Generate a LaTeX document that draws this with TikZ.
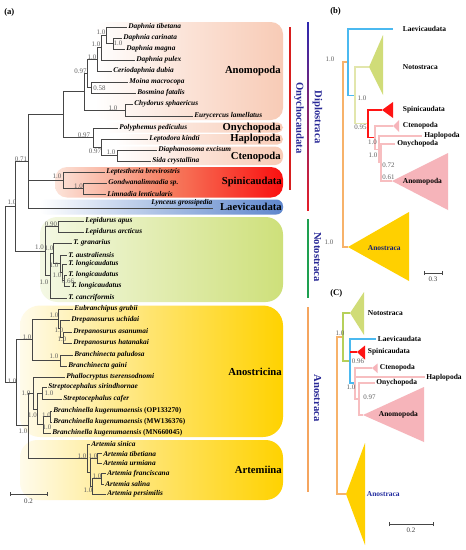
\documentclass[tikz,border=0pt]{standalone}
\usepackage{fontspec}
\setmainfont{Liberation Serif}
\definecolor{mynavy}{RGB}{40,40,150}
\definecolor{peach}{RGB}{248,203,182}
\definecolor{peachmid}{RGB}{251,226,214}
\definecolor{spR}{RGB}{250,15,15}
\definecolor{spM}{RGB}{246,125,95}
\definecolor{spL}{RGB}{252,228,218}
\definecolor{laR}{RGB}{95,135,205}
\definecolor{laM}{RGB}{170,192,228}
\definecolor{noR}{RGB}{206,224,122}
\definecolor{noL}{RGB}{244,248,228}
\definecolor{goldR}{RGB}{255,210,0}
\definecolor{goldM}{RGB}{255,228,110}
\definecolor{goldL}{RGB}{255,251,235}
\definecolor{brc}{RGB}{70,70,70}
\definecolor{svc}{RGB}{95,95,95}
\definecolor{barred}{RGB}{215,30,30}
\definecolor{bargreen}{RGB}{30,160,80}
\definecolor{barorange}{RGB}{245,165,95}
\definecolor{dipTop}{RGB}{45,40,175}
\definecolor{dipBot}{RGB}{230,30,40}
\definecolor{tblue}{RGB}{75,185,240}
\definecolor{torange}{RGB}{247,178,106}
\definecolor{tgreenB}{RGB}{226,230,172}
\definecolor{tgreenC}{RGB}{182,208,90}
\definecolor{tgreenfill}{RGB}{208,220,120}
\definecolor{tpink}{RGB}{247,190,192}
\definecolor{tpinkfill}{RGB}{246,180,186}
\definecolor{tred}{RGB}{255,20,20}
\definecolor{tgold}{RGB}{255,208,0}
\definecolor{anblue}{RGB}{35,45,160}
\tikzset{
  br/.style={draw=brc, line width=0.6pt},
  tx/.style={font=\fontsize{5.5}{6}\selectfont\bfseries\itshape, inner sep=0.8pt, anchor=west},
  sv/.style={font=\fontsize{5.2}{6}\selectfont, text=svc, inner sep=0pt},
  grp/.style={font=\fontsize{8}{9}\selectfont\bfseries, inner sep=0pt},
  vlab/.style={font=\fontsize{8}{9}\selectfont\bfseries, text=mynavy, rotate=-90, inner sep=0pt},
  plab/.style={font=\fontsize{6.5}{7}\selectfont\bfseries, inner sep=0pt},
  bl/.style={font=\fontsize{5.6}{6}\selectfont\bfseries, inner sep=0.5pt, anchor=west},
  tl/.style={line width=1.1pt},
  sb/.style={draw=brc, line width=0.6pt},
}
\begin{document}
\begin{tikzpicture}[x=0.75pt,y=-0.75pt]
\useasboundingbox (0,0) rectangle (466,550);
\fill[white] (0,0) rectangle (466,550);

% ---------------- background boxes (a)
\shade[left color=white, right color=peach, middle color=peachmid, rounded corners=9pt] (95,22) rectangle (283,120);
\shade[left color=white, right color=peach, middle color=peachmid, rounded corners=4pt] (105,122.5) rectangle (283,132.5);
\shade[left color=white, right color=peach, middle color=peachmid, rounded corners=4pt] (115,134) rectangle (283,144.5);
\shade[left color=white, right color=peach, middle color=peachmid, rounded corners=6pt] (115,146.5) rectangle (283,165);
\shade[left color=spL, right color=spR, middle color=spM, rounded corners=9pt] (55,167) rectangle (283,197.5);
\shade[left color=white, right color=laR, middle color=laM, rounded corners=5pt] (40,199.5) rectangle (283,214.5);
\shade[left color=noL, right color=noR, rounded corners=13pt] (40,217) rectangle (283,302);
\shade[left color=goldL, right color=goldR, middle color=goldM, rounded corners=15pt] (20,305.5) rectangle (283,437);
\shade[left color=goldL, right color=goldR, middle color=goldM, rounded corners=13pt] (20,440) rectangle (283,500);

% ---------------- group labels
\node[grp, anchor=east] (gAno) at (281,71) {Anomopoda};
\node[grp, anchor=east] (gOny) at (281,127.5) {Onychopoda};
\node[grp, anchor=east] (gHap) at (281,139) {Haplopoda};
\node[grp, anchor=east] (gCte) at (281,157) {Ctenopoda};
\node[grp, anchor=east] (gSpi) at (282,182) {Spinicaudata};
\node[grp, anchor=east] (gLae) at (282,207) {Laevicaudata};
\node[grp, anchor=east] (gAns) at (282,372) {Anostricina};
\node[grp, anchor=east] (gArt) at (282,470) {Artemiina};

% ---------------- side bars
\fill[barred] (289.3,27) rectangle (290.9,190);
\node[vlab] (vOny) at (299,118) {Onychocaudata};
\shade[top color=dipTop, bottom color=dipBot] (307.2,22) rectangle (308.9,210);
\node[vlab] (vDip) at (317.5,117) {Diplostraca};
\fill[bargreen] (307.2,219) rectangle (308.9,298);
\node[vlab] (vNot) at (317.5,257) {Notostraca};
\fill[barorange] (307.2,307) rectangle (308.9,492);
\node[vlab] (vAns) at (317.5,398) {Anostraca};

\node[plab, anchor=west] (pa) at (4,12) {(a)};

% ---------------- leaves (a)
\node[tx] (L1) at (127,27) {Daphnia tibetana};
\node[tx] (L2) at (122,38) {Daphnia carinata};
\node[tx] (L3) at (125,49) {Daphnia magna};
\node[tx] (L4) at (135,60) {Daphnia pulex};
\node[tx] (L5) at (112,71) {Ceriodaphnia dubia};
\node[tx] (L6) at (128,82) {Moina macrocopa};
\node[tx] (L7) at (136,93) {Bosmina fatalis};
\node[tx] (L8) at (133,104) {Chydorus sphaericus};
\node[tx] (L9) at (193,116) {Eurycercus lamellatus};
\node[tx] (L10) at (118,128) {Polyphemus pediculus};
\node[tx] (L11) at (148,139) {Leptodora kindti};
\node[tx] (L12) at (157,150) {Diaphanosoma excisum};
\node[tx] (L13) at (151,161) {Sida crystallina};
\node[tx] (L14) at (105,172) {Leptestheria brevirostris};
\node[tx] (L15) at (107,183) {Gondwanalimnadia sp.};
\node[tx] (L16) at (106,194) {Limnadia lenticularis};
\coordinate (Lyn) at (213,208);
\node[tx, anchor=south west] (L17) at (150,207.5) {Lynceus grossipedia};
\node[tx] (L18) at (84,221) {Lepidurus apus};
\node[tx] (L19) at (84,232) {Lepidurus arcticus};
\node[tx] (L20) at (72,243) {T. granarius};
\node[tx] (L21) at (67,255) {T. australiensis};
\node[tx] (L22) at (67,264) {T. longicaudatus};
\node[tx] (L23) at (67,275) {T. longicaudatus};
\node[tx] (L24) at (70,286) {T. longicaudatus};
\node[tx] (L25) at (67,298) {T. cancriformis};
\node[tx] (L26) at (73,309) {Eubranchipus grubii};
\node[tx] (L27) at (70,320) {Drepanosurus uchidai};
\node[tx] (L28) at (72,332) {Drepanosurus asanumai};
\node[tx] (L29) at (72,343) {Drepanosurus hatanakai};
\node[tx] (L30) at (73,355) {Branchinecta paludosa};
\node[tx] (L31) at (67,366) {Branchinecta gaini};
\node[tx] (L32) at (65,377) {Phallocryptus tserensodnomi};
\node[tx] (L33) at (47,387) {Streptocephalus sirindhornae};
\node[tx] (L34) at (62,399) {Streptocephalus cafer};
\node[tx] (L35) at (52,411) {Branchinella kugenumaensis {\upshape (OP133270)}};
\node[tx] (L36) at (52,422) {Branchinella kugenumaensis {\upshape (MW136376)}};
\node[tx] (L37) at (51,433) {Branchinella kugenumaensis {\upshape (MN660045)}};
\node[tx] (L38) at (90,444) {Artemia sinica};
\node[tx] (L39) at (102,453.5) {Artemia tibetiana};
\node[tx] (L40) at (102,463) {Artemia urmiana};
\node[tx] (L41) at (106,473.5) {Artemia franciscana};
\node[tx] (L42) at (104,484) {Artemia salina};
\node[tx] (L43) at (106,494) {Artemia persimilis};

% ---------------- internal nodes (a)
\coordinate (a23) at (113,43.5);
\coordinate (a123) at (106,35.25);
\coordinate (a1234) at (101,47.6);
\coordinate (a12345) at (97,59.3);
\coordinate (a67) at (91,87.5);
\coordinate (aDM) at (87,73.4);
\coordinate (a89) at (125,110);
\coordinate (aAno) at (84,91.7);
\coordinate (cC) at (117,155.5);
\coordinate (cHC) at (101,147.25);
\coordinate (cOHC) at (93,137.6);
\coordinate (aClad) at (63,114.65);
\coordinate (sGL) at (83,188.5);
\coordinate (sS) at (63,180.25);
\coordinate (dOny) at (28,161.3);
\coordinate (nLep) at (58,226.5);
\coordinate (tL23) at (64,280.5);
\coordinate (tL) at (62,272.25);
\coordinate (tAL) at (60,263.6);
\coordinate (tGAL) at (53,253.3);
\coordinate (tT) at (50,275.6);
\coordinate (nNot) at (45,251.05);
\coordinate (nDN) at (15,206.2);
\coordinate (eDah) at (63,337.5);
\coordinate (eD3) at (60,328.75);
\coordinate (eED) at (58,318.9);
\coordinate (eB) at (60,360.5);
\coordinate (eEB) at (32,339.7);
\coordinate (sSt) at (42,393);
\coordinate (bk12) at (50,416.5);
\coordinate (bk) at (43,424.75);
\coordinate (sStBk) at (37,408.9);
\coordinate (pPh) at (33,392.9);
\coordinate (arTU) at (97,458.25);
\coordinate (arFS) at (101,478.75);
\coordinate (arFSP) at (92,486.4);
\coordinate (arB) at (90,472.3);
\coordinate (arA) at (87,458.15);
\coordinate (nX) at (28,425.5);
\coordinate (nAn) at (16,382.6);
\coordinate (root) at (5,294.4);

% ---------------- branches (a)
\draw[br] (a23) |- (L2.west);  \draw[br] (a23) |- (L3.west);
\draw[br] (a123) |- (L1.west); \draw[br] (a123) |- (a23);
\draw[br] (a1234) |- (a123);   \draw[br] (a1234) |- (L4.west);
\draw[br] (a12345) |- (a1234); \draw[br] (a12345) |- (L5.west);
\draw[br] (a67) |- (L6.west);  \draw[br] (a67) |- (L7.west);
\draw[br] (aDM) |- (a12345);   \draw[br] (aDM) |- (a67);
\draw[br] (a89) |- (L8.west);  \draw[br] (a89) |- (L9.west);
\draw[br] (aAno) |- (aDM);     \draw[br] (aAno) |- (a89);
\draw[br] (cC) |- (L12.west);  \draw[br] (cC) |- (L13.west);
\draw[br] (cHC) |- (L11.west); \draw[br] (cHC) |- (cC);
\draw[br] (cOHC) |- (L10.west); \draw[br] (cOHC) |- (cHC);
\draw[br] (aClad) |- (aAno);   \draw[br] (aClad) |- (cOHC);
\draw[br] (sGL) |- (L15.west); \draw[br] (sGL) |- (L16.west);
\draw[br] (sS) |- (L14.west);  \draw[br] (sS) |- (sGL);
\draw[br] (dOny) |- (aClad);   \draw[br] (dOny) |- (sS); \draw[br] (dOny) |- (Lyn);
\draw[br] (nLep) |- (L18.west); \draw[br] (nLep) |- (L19.west);
\draw[br] (tL23) |- (L23.west); \draw[br] (tL23) |- (L24.west);
\draw[br] (tL) |- (L22.west);  \draw[br] (tL) |- (tL23);
\draw[br] (tAL) |- (L21.west); \draw[br] (tAL) |- (tL);
\draw[br] (tGAL) |- (L20.west); \draw[br] (tGAL) |- (tAL);
\draw[br] (tT) |- (tGAL);      \draw[br] (tT) |- (L25.west);
\draw[br] (nNot) |- (nLep);    \draw[br] (nNot) |- (tT);
\draw[br] (nDN) |- (dOny);     \draw[br] (nDN) |- (nNot);
\draw[br] (eDah) |- (L28.west); \draw[br] (eDah) |- (L29.west);
\draw[br] (eD3) |- (L27.west); \draw[br] (eD3) |- (eDah);
\draw[br] (eED) |- (L26.west); \draw[br] (eED) |- (eD3);
\draw[br] (eB) |- (L30.west);  \draw[br] (eB) |- (L31.west);
\draw[br] (eEB) |- (eED);      \draw[br] (eEB) |- (eB);
\draw[br] (sSt) |- (L33.west); \draw[br] (sSt) |- (L34.west);
\draw[br] (bk12) |- (L35.west); \draw[br] (bk12) |- (L36.west);
\draw[br] (bk) |- (bk12);      \draw[br] (bk) |- (L37.west);
\draw[br] (sStBk) |- (sSt);    \draw[br] (sStBk) |- (bk);
\draw[br] (pPh) |- (L32.west); \draw[br] (pPh) |- (sStBk);
\draw[br] (arTU) |- (L39.west); \draw[br] (arTU) |- (L40.west);
\draw[br] (arFS) |- (L41.west); \draw[br] (arFS) |- (L42.west);
\draw[br] (arFSP) |- (arFS);   \draw[br] (arFSP) |- (L43.west);
\draw[br] (arB) |- (arTU);     \draw[br] (arB) |- (arFSP);
\draw[br] (arA) |- (L38.west); \draw[br] (arA) |- (arB);
\draw[br] (nX) |- (pPh);       \draw[br] (nX) |- (arA);
\draw[br] (nAn) |- (eEB);      \draw[br] (nAn) |- (nX);
\draw[br] (root) |- (nDN);     \draw[br] (root) |- (nAn);

% ---------------- support values (a)
\node[sv] (s1) at (118,43.5) {1.0};
\node[sv] (s2) at (101,32) {1.0};
\node[sv] (s3) at (96,44.5) {1.0};
\node[sv] (s4) at (92,57) {1.0};
\node[sv] (s5) at (80.5,71) {0.97};
\node[sv] (s6) at (99.5,88) {0.58};
\node[sv] (s7) at (113,108) {1.0};
\node[sv] (s8) at (84,135) {0.97};
\node[sv] (s9) at (95,151) {0.97};
\node[sv] (s10) at (111,152.5) {1.0};
\node[sv] (s11) at (57,176.5) {1.0};
\node[sv] (s12) at (78.5,186) {1.0};
\node[sv] (s13) at (21,159) {0.71};
\node[sv] (s14) at (12,202) {1.0};
\node[sv] (s15) at (51,224) {0.90};
\node[sv] (s16) at (39.5,247.5) {1.0};
\node[sv] (s17) at (49,248) {1.0};
\node[sv] (s18) at (54,265) {1.0};
\node[sv] (s19) at (57,275) {1.0};
\node[sv] (s20) at (68,281) {0.66};
\node[sv] (s21) at (44,282) {1.0};
\node[sv] (s22) at (27,337) {1.0};
\node[sv] (s23) at (54,315) {1.0};
\node[sv] (s24) at (59,330) {1.0};
\node[sv] (s25) at (62,339.5) {1.0};
\node[sv] (s26) at (54,356.5) {1.0};
\node[sv] (s27) at (12,381) {1.0};
\node[sv] (s28) at (26,393) {1.0};
\node[sv] (s29) at (49,393) {1.0};
\node[sv] (s30) at (32.5,415) {1.0};
\node[sv] (s31) at (46.5,415.5) {1.0};
\node[sv] (s32) at (47,427.5) {1.0};
\node[sv] (s33) at (23,431) {1.0};
\node[sv] (s34) at (82,456) {1.0};
\node[sv] (s35) at (93,456) {1.0};
\node[sv] (s36) at (97,476) {1.0};
\node[sv] (s37) at (88,490) {1.0};

% scale bar (a)
\coordinate (sa1) at (10,494);
\coordinate (sa2) at (47,494);
\draw[sb] (sa1) -- (sa2);
\draw[sb] ([yshift=-1.5pt]sa1) -- ([yshift=1.5pt]sa1);
\draw[sb] ([yshift=-1.5pt]sa2) -- ([yshift=1.5pt]sa2);
\node[sv, text=black!75] (sal) at (28.5,501) {0.2};

% ================= panel (b)
\node[plab, anchor=west] (pb) at (330,11) {(b)};
\coordinate (bR) at (343,154.5);
\coordinate (bB) at (348,62);
\coordinate (bLae) at (393,29);
\coordinate (bG) at (355,95.25);
\coordinate (bNotA) at (369,67);
\coordinate (bRd) at (368,123.5);
\coordinate (bSpA) at (382,110);
\coordinate (bP1) at (375,137.6);
\coordinate (bCtA) at (393,126);
\coordinate (bP2) at (379,149.25);
\coordinate (bHap) at (422,136);
\coordinate (bP3) at (381,162.5);
\coordinate (bOny) at (395,144);
\coordinate (bAnoA) at (392,181);
\coordinate (bAnsA) at (348,247);

\fill[tgreenfill] (bNotA) -- (383,35) -- (383,95) -- cycle;
\fill[tred] (bSpA) -- (393,102) -- (393,118) -- cycle;
\fill[tpinkfill] (bCtA) -- (399,120) -- (399,132) -- cycle;
\fill[tpinkfill] (bAnoA) -- (448,153) -- (448,210) -- cycle;
\fill[tgold] (bAnsA) -- (409,212) -- (409,281) -- cycle;

\draw[tl, torange] (bR) |- (bB);
\draw[tl, torange] (bR) |- (bAnsA);
\draw[tl, tblue] (bB) |- (bLae);
\draw[tl, tblue] (bB) |- (bG);
\draw[tl, tgreenB] (bG) |- (bNotA);
\draw[tl, tgreenB] (bG) |- (bRd);
\draw[tl, tred] (bRd) |- (bSpA);
\draw[tl, tred] (bRd) |- (bP1);
\draw[tl, tpink] (bP1) |- (bCtA);
\draw[tl, tpink] (bP1) |- (bP2);
\draw[tl, tpink] (bP2) |- (bHap);
\draw[tl, tpink] (bP2) |- (bP3);
\draw[tl, tpink] (bP3) |- (bOny);
\draw[tl, tpink] (bP3) |- (bAnoA);

\node[bl] (bLaeL) at (402,29) {Laevicaudata};
\node[bl] (bNotL) at (402,67) {Notostraca};
\node[bl] (bSpiL) at (402,110) {Spinicaudata};
\node[bl] (bCteL) at (402,126) {Ctenopoda};
\node[bl] (bHapL) at (423.5,136) {Haplopoda};
\node[bl] (bOnyL) at (396.5,144) {Onychopoda};
\node[bl] (bAnoL) at (402,182) {Anomopoda};
\node[bl, text=anblue!70!black] (bAnsL) at (367,248) {Anostraca};

\node[sv] (bs1) at (330,59) {1.0};
\node[sv] (bs2) at (362,98.5) {1.0};
\node[sv] (bs3) at (360.5,127) {0.95};
\node[sv] (bs4) at (372.5,142) {1.0};
\node[sv] (bs5) at (373,155) {1.0};
\node[sv] (bs6) at (388.5,165) {0.72};
\node[sv] (bs7) at (388.5,177) {0.61};
\node[sv] (bs8) at (329,242) {1.0};

\coordinate (sb1) at (424,273);
\coordinate (sb2) at (442,273);
\draw[sb] (sb1) -- (sb2);
\draw[sb] ([yshift=-1.5pt]sb1) -- ([yshift=1.5pt]sb1);
\draw[sb] ([yshift=-1.5pt]sb2) -- ([yshift=1.5pt]sb2);
\node[sv, text=black!75] (sbl) at (433,279) {0.3};

% ================= panel (c)
\node[plab, anchor=west] (pc) at (330,293) {(C)};
\coordinate (cR) at (337,415.5);
\coordinate (cG) at (343,337);
\coordinate (cNotA) at (350,313);
\coordinate (cB) at (350,361);
\coordinate (cLae) at (376,339);
\coordinate (cSpA) at (357,352);
\coordinate (cP1) at (355,383);
\coordinate (cCtA) at (372,368);
\coordinate (cHap) at (425,377);
\coordinate (cP2) at (359,399);
\coordinate (cOny) at (375,383);
\coordinate (cAnoA) at (363,415);
\coordinate (cAnsA) at (346,494);

\fill[tgreenfill] (cNotA) -- (364,292) -- (364,335) -- cycle;
\fill[tred] (cSpA) -- (365,345.5) -- (365,359.5) -- cycle;
\fill[tpinkfill] (cCtA) -- (377.5,363.5) -- (377.5,373) -- cycle;
\fill[tpinkfill] (cAnoA) -- (424,387) -- (424,442) -- cycle;
\fill[tgold] (cAnsA) -- (365,443) -- (365,545) -- cycle;

\draw[tl, torange] (cR) |- (cG);
\draw[tl, torange] (cR) |- (cAnsA);
\draw[tl, tgreenC] (cG) |- (cNotA);
\draw[tl, tgreenC] (cG) |- (cB);
\draw[tl, tblue] (cB) |- (cLae);
\draw[tl, tblue] (cB) |- (cP1);
\draw[tl, tred] (cB |- cSpA) -- (cSpA);
\draw[tl, tpink] (cP1) |- (cCtA);
\draw[tl, tpink] (cP1) |- (cHap);
\draw[tl, tpink] (cP1) |- (cP2);
\draw[tl, tpink] (cP2) |- (cOny);
\draw[tl, tpink] (cP2) |- (cAnoA);

\node[bl] (cNotL) at (367,313) {Notostraca};
\node[bl] (cLaeL) at (377,339) {Laevicaudata};
\node[bl] (cSpiL) at (367,352) {Spinicaudata};
\node[bl] (cCteL) at (379,368) {Ctenopoda};
\node[bl] (cHapL) at (425.5,378) {Haplopoda};
\node[bl] (cOnyL) at (375.5,383) {Onychopoda};
\node[bl] (cAnoL) at (378,415) {Anomopoda};
\node[bl, text=anblue] (cAnsL) at (366,494) {Anostraca};

\node[sv] (cs1) at (340,333) {1.0};
\node[sv] (cs2) at (358,361.5) {0.96};
\node[sv] (cs3) at (351,387.5) {1.0};
\node[sv] (cs4) at (369.5,397.5) {0.97};

\coordinate (sc1) at (389,524);
\coordinate (sc2) at (433,524);
\draw[sb] (sc1) -- (sc2);
\draw[sb] ([yshift=-1.5pt]sc1) -- ([yshift=1.5pt]sc1);
\draw[sb] ([yshift=-1.5pt]sc2) -- ([yshift=1.5pt]sc2);
\node[sv, text=black!75] (scl) at (411,530) {0.2};
\end{tikzpicture}
\end{document}
